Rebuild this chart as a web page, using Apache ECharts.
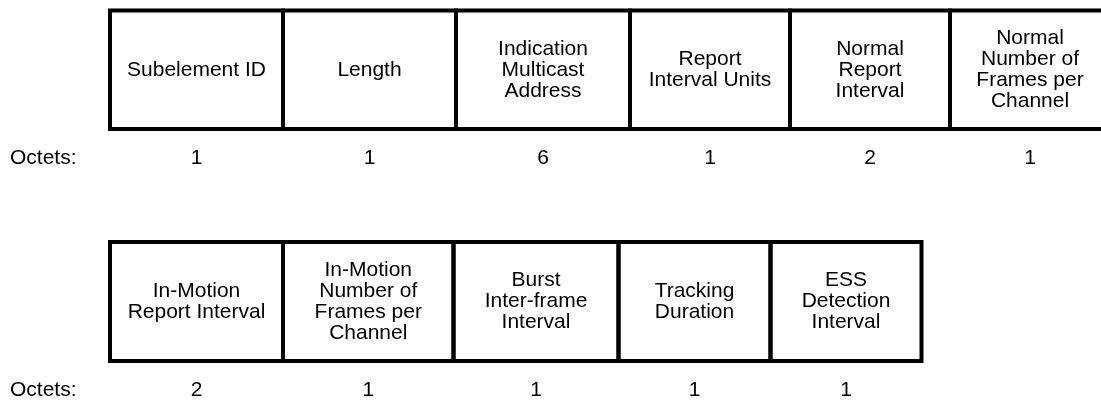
<!DOCTYPE html>
<html>
<head>
<meta charset="utf-8">
<script src="https://cdn.jsdelivr.net/npm/echarts@6/dist/echarts.min.js"></script>
<style>
html,body{margin:0;padding:0;background:#fff;}
#c{width:1101px;height:400px;}
</style>
</head>
<body>
<div id="c"></div>
<script>
// ---- data ----
const row1Fields = ['Subelement ID', 'Length', 'Indication\nMulticast\nAddress', 'Report\nInterval Units', 'Normal\nReport\nInterval', 'Normal\nNumber of\nFrames per\nChannel'];
const row1Octets = [1, 1, 6, 1, 2, 1];
const row2Fields = ['In-Motion\nReport Interval', 'In-Motion\nNumber of\nFrames per\nChannel', 'Burst\nInter-frame\nInterval', 'Tracking\nDuration', 'ESS\nDetection\nInterval'];
const row2Octets = [2, 1, 1, 1, 1];
const octetsLabel = 'Octets:';

// ---- layout (pixel-unit axis) ----
const row1Widths = [173, 173, 174, 160, 160, 160];
const row2Widths = [173, 170.5, 165, 152, 151];
const startX = 110;
const labelX = 10;
const rowLayout = [
  { top: 10.5, bottom: 129, numY: 158.5 },
  { top: 242, bottom: 361, numY: 390 }
];

const FONT = '"Liberation Sans", Arial, Helvetica, sans-serif';

function buildRow(fields, octets, widths, rowIdx) {
  const out = [];
  let x = startX;
  fields.forEach((f, i) => {
    const L = rowLayout[rowIdx];
    out.push({ value: [x, x + widths[i], L.top, L.bottom, L.numY], name: f, octets: octets[i], first: i === 0 });
    x += widths[i];
  });
  return out;
}
const items = buildRow(row1Fields, row1Octets, row1Widths, 0).concat(buildRow(row2Fields, row2Octets, row2Widths, 1));

const chart = echarts.init(document.getElementById('c'), null, { renderer: 'canvas' });
chart.setOption({
  animation: false,
  backgroundColor: '#fff',
  grid: { left: 0, right: 0, top: 0, bottom: 0 },
  xAxis: { type: 'value', min: 0, max: 1101, show: false },
  yAxis: { type: 'value', min: 0, max: 400, inverse: true, show: false },
  series: [{
    type: 'custom',
    clip: false,
    data: items.map(d => d.value),
    renderItem: function (params, api) {
      const it = items[params.dataIndex];
      const p0 = api.coord([api.value(0), api.value(2)]);
      const p1 = api.coord([api.value(1), api.value(3)]);
      const pn = api.coord([(api.value(0) + api.value(1)) / 2, api.value(4)]);
      const children = [
        {
          type: 'rect',
          shape: { x: p0[0], y: p0[1], width: p1[0] - p0[0], height: p1[1] - p0[1] },
          style: { fill: null, stroke: '#000', lineWidth: 4 }
        },
        {
          type: 'text',
          x: (p0[0] + p1[0]) / 2,
          y: (p0[1] + p1[1]) / 2,
          style: { text: it.name, fill: '#000', font: '21px ' + FONT, lineHeight: 21, align: 'center', verticalAlign: 'middle' }
        },
        {
          type: 'text',
          x: pn[0],
          y: pn[1],
          style: { text: String(it.octets), fill: '#000', font: '21px ' + FONT, align: 'center', verticalAlign: 'middle' }
        }
      ];
      if (it.first) {
        const pl = api.coord([labelX, api.value(4)]);
        children.push({
          type: 'text', x: pl[0], y: pl[1],
          style: { text: octetsLabel, fill: '#000', font: '21px ' + FONT, align: 'left', verticalAlign: 'middle' }
        });
      }
      return { type: 'group', children: children };
    }
  }]
});
</script>
</body>
</html>
